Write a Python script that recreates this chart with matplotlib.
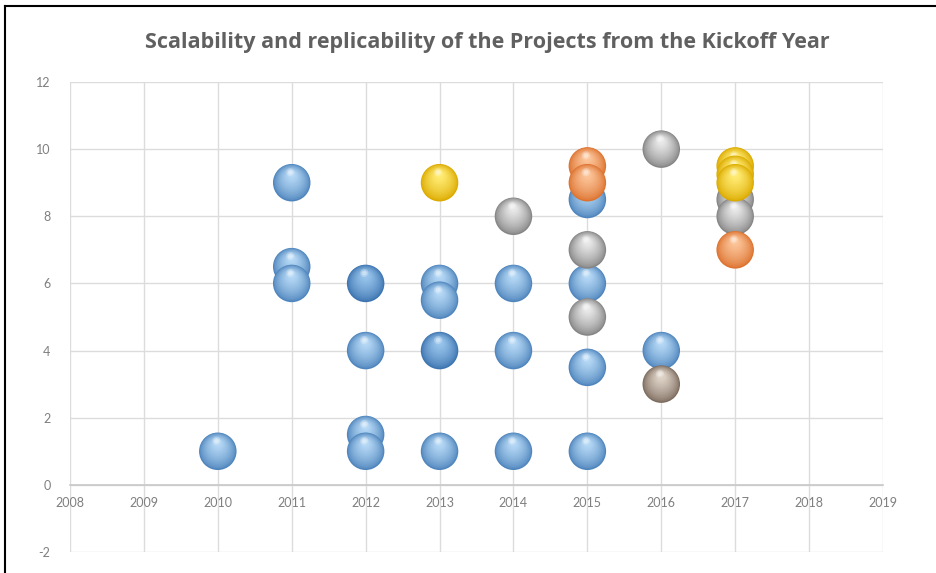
import matplotlib
matplotlib.use("Agg")
from matplotlib import pyplot as plt
from matplotlib import transforms
from matplotlib.colors import to_rgb
import numpy as np

# project bubbles, grouped by colour (kickoff year, score)
blue_years = [2010, 2011, 2011, 2011, 2012, 2012, 2012, 2013, 2013, 2013,
              2014, 2014, 2014, 2015, 2015, 2015, 2015, 2016]
blue_values = [1, 9, 6.5, 6, 4, 1.5, 1, 6, 5.5, 1,
               6, 4, 1, 8.5, 6, 3.5, 1, 4]
darkblue_years = [2012, 2013]
darkblue_values = [6, 4]
grey_years = [2014, 2015, 2015, 2016, 2017, 2017]
grey_values = [8, 7, 5, 10, 8.5, 8]
taupe_years = [2016]
taupe_values = [3]
orange_years = [2015, 2015, 2017]
orange_values = [9.5, 9, 7]
yellow_years = [2013, 2017, 2017, 2017]
yellow_values = [9, 9.5, 9.25, 9]

x_ticks = list(range(2008, 2020))
y_ticks = [-2, 0, 2, 4, 6, 8, 10, 12]
y_labels = ["-2", "0", "2", "4", "6", "8", "10", "12"]
title = "Scalability and replicability of the Projects from the Kickoff Year"

# (edge colour, centre colour)
shades = {
    "blue": ("#4f85bd", "#b2d6f4"),
    "darkblue": ("#3d74b0", "#95c2ea"),
    "grey": ("#858585", "#e6e6e6"),
    "taupe": ("#7d6d60", "#dcd0c4"),
    "orange": ("#dd7330", "#fbc296"),
    "yellow": ("#dcab00", "#ffea70"),
}

groups = [
    ("blue", blue_years, blue_values),
    ("darkblue", darkblue_years, darkblue_values),
    ("grey", grey_years, grey_values),
    ("taupe", taupe_years, taupe_values),
    ("orange", orange_years, orange_values),
    ("yellow", yellow_years, yellow_values),
]

plt.rcParams["font.family"] = ["Lato", "DejaVu Sans"]
fig = plt.figure(figsize=(9.36, 5.73), dpi=100)
ax = fig.add_axes([70 / 936, 1 - 552 / 573, 813 / 936, 470 / 573])

ax.set_xlim(2008, 2019)
ax.set_ylim(-2, 12)
ax.set_xticks(x_ticks)
ax.set_yticks(y_ticks)
ax.set_yticklabels(y_labels)
ax.grid(True, color="#dcdcdc", linewidth=1.0)
ax.set_axisbelow(True)
for side in ["top", "right", "left"]:
    ax.spines[side].set_visible(False)
ax.spines["bottom"].set_position(("data", 0))
ax.spines["bottom"].set_color("#c8c8c8")
ax.spines["bottom"].set_linewidth(1.2)
ax.tick_params(length=0, labelsize=9, labelcolor="#7f7f7f")
ax.tick_params(axis="x", pad=9)
ax.tick_params(axis="y", pad=14)

diam = 27.0  # points
z = 3
for name, xs, ys in groups:
    edge, centre = (np.array(to_rgb(c)) for c in shades[name])
    for x, y in zip(xs, ys):
        n = 16
        for k in range(n):
            t = k / (n - 1)
            d = diam * (1 - 0.8 * t)
            dy = (diam - d) * 0.26
            col = edge + (centre - edge) * (t ** 0.7)
            tr = transforms.offset_copy(ax.transData, fig, x=0, y=dy, units="points")
            ax.scatter([x], [y], s=d ** 2, color=col, edgecolors="none",
                       transform=tr, zorder=z, clip_on=False)
        # soft specular highlight
        for d, a in [(diam * 0.22, 0.25), (diam * 0.13, 0.35)]:
            tr = transforms.offset_copy(ax.transData, fig, x=-1, y=diam * 0.28, units="points")
            ax.scatter([x], [y], s=d ** 2, color="white", alpha=a,
                       edgecolors="none", transform=tr, zorder=z, clip_on=False)
        z += 1

fig.text(0.521, 0.925, title, ha="center", va="center", fontsize=15.5,
         fontweight="bold", color="#606060", family=["Open Sans", "DejaVu Sans"])

# frame lines of the screenshot
fig.add_artist(plt.Line2D([5 / 936, 1], [1 - 6 / 573, 1 - 6 / 573], color="black", linewidth=1.5))
fig.add_artist(plt.Line2D([5 / 936, 5 / 936], [0, 1 - 6 / 573], color="black", linewidth=1.5))

fig.savefig("out.png", dpi=100)
